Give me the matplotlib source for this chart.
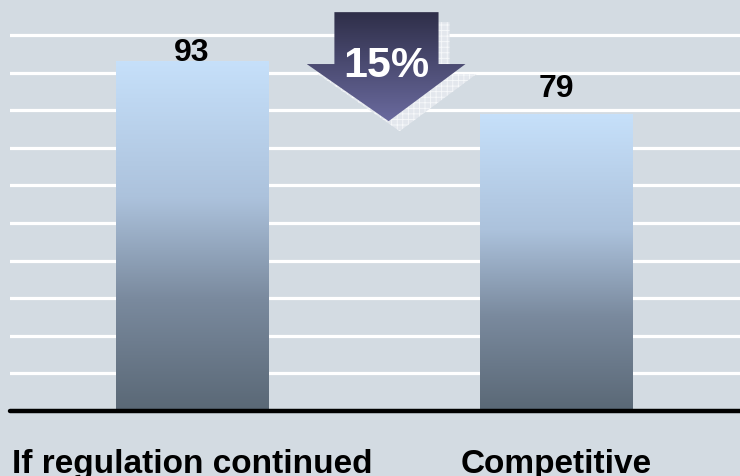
import matplotlib
matplotlib.use("Agg")
import matplotlib.pyplot as plt
import numpy as np
from matplotlib.colors import LinearSegmentedColormap
from matplotlib.patches import Polygon
from matplotlib.transforms import ScaledTranslation

categories = ["If regulation continued", "Competitive"]
values = [93, 79]
label_offsets = [1, 13]  # points above bar top for the value labels
gridlines = [10, 20, 30, 40, 50, 60, 70, 80, 90, 100]

BG = "#d3dbe2"

plt.rcParams["font.family"] = ["Liberation Sans", "DejaVu Sans"]
plt.rcParams["hatch.linewidth"] = 0.6

fig = plt.figure(figsize=(7.4, 4.77), dpi=100, facecolor=BG)
ax = fig.add_axes([10 / 740, 65 / 477, 730 / 740, 412 / 477])
ax.set_facecolor(BG)
ax.set_xlim(-0.5, 1.505)
ax.set_ylim(0, 109.6)
for s in ax.spines.values():
    s.set_visible(False)
ax.set_xticks([])
ax.set_yticks([])

# white horizontal rules
for g in gridlines:
    ax.axhline(g, color="white", lw=2.3, zorder=1)

# bars with a vertical gradient (dark slate at the bottom, pale blue at top)
bar_cmap = LinearSegmentedColormap.from_list(
    "bar",
    [(0.0, "#5a6876"), (0.32, "#7a8a9e"), (0.61, "#acc2dc"), (1.0, "#c6e0fa")],
)
x = np.arange(len(categories))
bars = ax.bar(x, values, width=0.42, color="none", zorder=2)
grad = np.linspace(0, 1, 256).reshape(-1, 1)
for rect, v in zip(bars, values):
    x0 = rect.get_x()
    im = ax.imshow(grad, cmap=bar_cmap, origin="lower", aspect="auto",
                   extent=[x0, x0 + rect.get_width(), 0, v], zorder=2)
    im.set_clip_path(rect)

# value labels
for xi, v, off in zip(x, values, label_offsets):
    ax.annotate(f"{v}", (xi, v), xytext=(0, off), textcoords="offset points",
                ha="center", va="baseline", fontsize=23, fontweight="bold",
                color="black", zorder=5)

# baseline
ax.axhline(0, color="black", lw=3.2, solid_capstyle="round", zorder=4,
           clip_on=False)

# category labels
for xi, c in zip(x, categories):
    ax.text(xi, -0.148, c, transform=ax.get_xaxis_transform(),
            ha="center", va="baseline", fontsize=24, fontweight="bold")

# down arrow showing the drop between the two bars
drop = (values[0] - values[1]) / values[0] * 100
arrow_pts = [
    (0.391, 106.1), (0.677, 106.1), (0.677, 92.3), (0.751, 92.3),
    (0.540, 77.1), (0.315, 92.3), (0.391, 92.3),
]
shadow = Polygon(arrow_pts, closed=True, facecolor="#e3e7ed",
                 edgecolor="#f6f8fa", hatch="+++", lw=0, zorder=3,
                 transform=ax.transData + ScaledTranslation(11 / 100, -10 / 100, fig.dpi_scale_trans))
ax.add_patch(shadow)

arrow = Polygon(arrow_pts, closed=True, facecolor="none", edgecolor="none", zorder=3)
ax.add_patch(arrow)
arrow_cmap = LinearSegmentedColormap.from_list("arrow", ["#6a6a9e", "#2e2e48"])
im = ax.imshow(grad, cmap=arrow_cmap, origin="lower", aspect="auto",
               extent=[0.315, 0.751, 77.1, 106.1], zorder=3)
im.set_clip_path(arrow)

ax.text(0.533, 92.0, f"{drop:.0f}%", ha="center", va="center",
        fontsize=31, fontweight="bold", color="white", zorder=6)

fig.savefig("out.png", dpi=100, facecolor=BG)
